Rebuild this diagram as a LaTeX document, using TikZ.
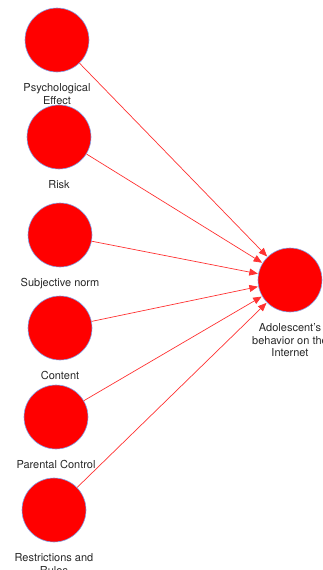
\documentclass[tikz,border=0pt]{standalone}
\usepackage{fontspec}
\setmainfont{TeX Gyre Heros}
\definecolor{nodered}{RGB}{255, 0, 0}
\definecolor{rimblue}{RGB}{130, 160, 230}
\definecolor{linkred}{RGB}{255, 50, 50}
\definecolor{captiongray}{RGB}{40, 40, 40}
\usetikzlibrary{arrows.meta, positioning}
\tikzset{
  construct/.style={circle, draw=rimblue, line width=0.6pt, fill=nodered, minimum size=64pt, inner sep=0pt},
  caption/.style={align=center, text=captiongray, font=\fontsize{11}{12.5}\selectfont, inner sep=2pt, anchor=north},
  path/.style={draw=linkred, line width=0.7pt, -{Triangle[length=8.5pt, width=7pt]}, shorten >=0.5pt}
}

\begin{document}
\begin{tikzpicture}[x=1pt, y=-1pt]
  \useasboundingbox (0,0) rectangle (323,570);

  % exogenous constructs
  \node[construct] (psych) at (57,40) {};
  \node[construct] (risk) at (59,137) {};
  \node[construct] (subj) at (60,235) {};
  \node[construct] (content) at (60,328) {};
  \node[construct] (parent) at (56,417) {};
  \node[construct] (rules) at (54,510) {};

  % endogenous construct
  \node[construct] (behav) at (290,280) {};

  % captions
  \node[caption, below=9pt of psych.south, anchor=north] (psychlbl) {Psychological\\Effect};
  \node[caption, below=9pt of risk.south, anchor=north] (risklbl) {Risk};
  \node[caption, below=9pt of subj.south, anchor=north] (subjlbl) {Subjective norm};
  \node[caption, below=9pt of content.south, anchor=north] (contentlbl) {Content};
  \node[caption, below=9pt of parent.south, anchor=north] (parentlbl) {Parental Control};
  \node[caption, below=9pt of rules.south, anchor=north] (ruleslbl) {Restrictions and\\Rules};
  \node[caption, below=9pt of behav.south, anchor=north] (behavlbl) {Adolescent's\\behavior on the\\Internet};

  % paths
  \foreach \src in {psych, risk, subj, content, parent, rules}
    \draw[path] (\src) -- (behav);
\end{tikzpicture}
\end{document}
